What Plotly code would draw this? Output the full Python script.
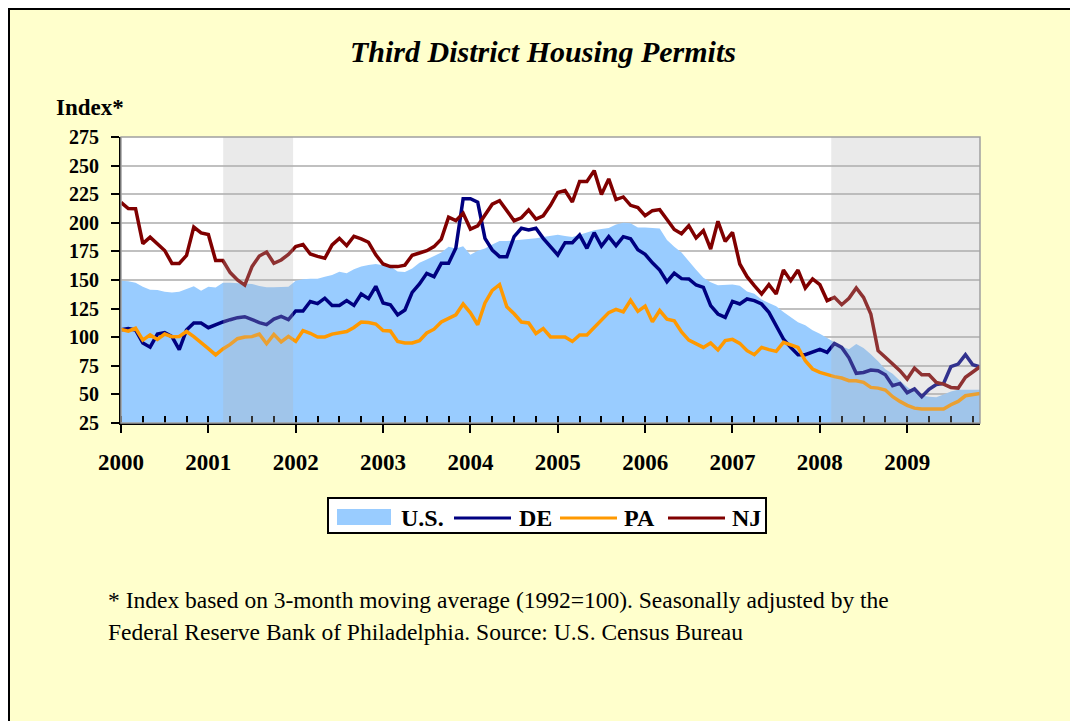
import plotly.graph_objects as go

# ---------------- data (monthly index, Jan 2000 .. Nov 2009) ----------------
start_year = 2000
us = [149.4, 149, 147.7, 144.2, 141.5, 141.3, 139.8, 139, 139.8, 142.5, 144.5, 140.5,
      144.2, 143.5, 147.5, 147.7, 147.1, 146.5, 146.5, 144.8, 143.6, 143.6, 143.6, 144.2,
      149.4, 150.6, 151, 151, 152.9, 154.4, 157.3, 155.8, 159.3, 161.7, 163.1, 164,
      163, 162, 157.5, 157, 160, 165, 168, 171, 174, 179, 177.5, 179.5,
      172, 175.5, 177.5, 181, 184, 184, 184.5, 185.5, 185.5, 186.5, 187.5, 188.5,
      189.5, 188.5, 187.5, 189.5, 191.5, 193.5, 194.5, 195.5, 198.5, 200, 199.5, 196,
      196, 195.5, 195, 185, 179, 174, 166, 159, 152, 148, 145.5, 146,
      146, 145, 140, 138, 133, 130, 127, 122, 117.5, 113, 110.5, 106,
      103, 99, 95.5, 92, 89.5, 94, 90.5, 85, 79, 72, 68, 62,
      56.5, 52, 49, 48, 47.5, 50, 52.5, 54, 54, 54, 54]
de = [106.6, 107.5, 106.3, 95, 91.3, 102.7, 104, 100.5, 89.2, 106.3, 112.4, 112.4,
      108.3, 111.2, 113.3, 115.3, 117.1, 117.9, 115, 112.8, 111, 115.8, 118.2, 115.3,
      122.9, 122.9, 131.2, 129.3, 134.1, 127.8, 127.8, 132, 127.8, 137.8, 133.7, 144.5,
      129.9, 128.3, 119.5, 123.8, 139.2, 146.5, 155.8, 152.9, 164.6, 164.6, 178, 221,
      221, 218, 186.4, 176.2, 170.4, 170.4, 187.9, 195.2, 193.7, 195.2, 186.4, 179.1,
      171.9, 182.6, 182.6, 189.3, 177.7, 191.4, 179.7, 187.9, 180, 187.9, 186, 176.5,
      172.5, 165, 158.7, 148.5, 156, 151.2, 150.9, 145.6, 143.6, 127.6, 120.3, 117.3,
      131.3, 129, 133.4, 132, 129, 121.7, 110, 98.4, 91.1, 84.7, 84.7, 86.7,
      89.4, 86.7, 94.6, 91.1, 82, 68.4, 69.2, 71.3, 70.7, 67.2, 57.6, 59.6,
      51.5, 54.7, 48, 54.4, 58.7, 59.6, 74.2, 76.5, 84.7, 75.9, 74.2]
pa = [106.7, 105.3, 107.8, 97.5, 102, 98.1, 102.8, 100.5, 100.7, 105, 100.5, 94.8,
      90, 84.5, 89.7, 93.7, 98.7, 100.2, 100.5, 102.8, 94.3, 102.5, 95.8, 100.7,
      96.3, 105.7, 103.4, 100.2, 100.2, 102.7, 104.1, 104.9, 108.5, 113.3, 112.9, 111.5,
      105.9, 105.4, 96.3, 94.9, 94.9, 97, 103.7, 107, 113.3, 116.2, 119.6, 129,
      121.3, 110.9, 130, 141, 146, 126.5, 120.5, 113.3, 112.5, 103.2, 107.5, 100.2,
      100.2, 100.2, 96.3, 102, 102, 108.6, 115.3, 121.5, 124.4, 122.2, 132.3, 122.6,
      127.2, 113.4, 123.3, 115.7, 114.4, 104.5, 97.5, 94.6, 91.1, 94.9, 88.8, 97,
      98.1, 94.6, 88.2, 84.7, 91.1, 89.1, 87.6, 95.5, 92.9, 91.1, 79.4, 72.2,
      69.2, 67.2, 65.5, 64.3, 62, 61.9, 60.5, 56.1, 55.5, 53.8, 48, 43.9,
      40.4, 38, 37.2, 37.2, 37.2, 37.2, 41, 43.9, 48.8, 49.7, 50.9]
nj = [217.8, 212.4, 212.3, 181.8, 187.5, 181.8, 175.8, 164.5, 164.5, 171.5, 196.3, 191.2,
      189.8, 167, 167, 156.5, 150, 145.5, 161.7, 171, 174.5, 164.6, 167.5, 172.4,
      179.3, 181, 172.7, 170.7, 169, 180.7, 186.4, 180, 188.2, 186, 183, 172,
      164, 161.7, 161.7, 163, 171.6, 173.6, 175.6, 179.2, 185.7, 205, 201.9, 208.3,
      194.5, 197.4, 207, 216.3, 219.4, 210.9, 201.8, 204.4, 211.2, 203.2, 206.1, 215.3,
      226.5, 228.2, 218.2, 236.2, 236.2, 245.6, 224.8, 238.4, 220.3, 222.6, 215.3, 213.3,
      206.2, 210.6, 211.5, 202.9, 194.2, 190.5, 197.5, 186.7, 193.1, 177.1, 201.3, 183.8,
      191.7, 164, 152.9, 145, 137.8, 145.9, 137.8, 158.7, 149.4, 158.7, 143, 150.9,
      145.9, 132, 134.8, 128.4, 134, 143, 134.8, 120.3, 88.2, 82.4, 76.5, 70.7,
      63.4, 73, 67.2, 67.2, 60.5, 59, 56.1, 55.5, 64.9, 69.2, 74.2]

years = list(range(2000, 2010))
year_labels = [str(y) for y in years]
y_ticks = [25, 50, 75, 100, 125, 150, 175, 200, 225, 250, 275]
recession_start = [2001.17, 2008.13]
recession_end = [2001.97, 2009.84]

series_names = ["U.S.", "DE", "PA", "NJ"]
series_colors = ["#99ccff", "#000080", "#ff9900", "#800000"]

title = "Third District Housing Permits"
y_title = "Index*"
note_lines = ["* Index based on 3-month moving average (1992=100). Seasonally adjusted by the",
              "Federal Reserve Bank of Philadelphia. Source: U.S. Census Bureau"]

months = [start_year + i / 12 for i in range(len(us))]

# ---------------- figure ----------------
SERIF = "Liberation Serif, Times New Roman, serif"
W, H = 1070, 721
L, T = 121, 137
PW, PH = 859, 286
R, B = W - L - PW, H - T - PH


# screen pixel -> paper coordinates
def px(x):
    return (x - L) / PW


def py(y):
    return (T + PH - y) / PH


fig = go.Figure()
fig.add_trace(go.Scatter(x=months, y=us, name=series_names[0], mode="lines", fill="tozeroy",
                         fillcolor=series_colors[0], line=dict(color=series_colors[0], width=0),
                         showlegend=False))
for name, color, vals in zip(series_names[1:], series_colors[1:], [de, pa, nj]):
    fig.add_trace(go.Scatter(x=months, y=vals, name=name, mode="lines",
                             line=dict(color=color, width=3.5), showlegend=False))

shapes = []
# white strips outside the outer frame
shapes.append(dict(type="rect", xref="paper", yref="paper", x0=px(-5), x1=px(W + 5),
                   y0=py(8), y1=py(-5), fillcolor="white", line=dict(width=0), layer="above"))
shapes.append(dict(type="rect", xref="paper", yref="paper", x0=px(-5), x1=px(8),
                   y0=py(H + 5), y1=py(-5), fillcolor="white", line=dict(width=0), layer="above"))
# outer frame
shapes.append(dict(type="rect", xref="paper", yref="paper", x0=px(9), x1=px(1100),
                   y0=py(760), y1=py(9), line=dict(color="black", width=2), layer="above"))
# recession shading
for s, e in zip(recession_start, recession_end):
    shapes.append(dict(type="rect", xref="x", yref="paper", x0=s, x1=e, y0=0, y1=1,
                       fillcolor="rgba(180,180,180,0.28)", line=dict(width=0), layer="above"))
# plot-area border (top/right grey)
shapes.append(dict(type="rect", xref="paper", yref="paper", x0=0, x1=1, y0=0, y1=1,
                   line=dict(color="#a0a0a0", width=1.5), layer="above"))

annotations = [
    dict(text="<b><i>" + title + "</i></b>", xref="paper", yref="paper", x=px(543), y=py(52),
         xanchor="center", yanchor="middle", showarrow=False,
         font=dict(family=SERIF, size=30, color="black")),
    dict(text="<b>" + y_title + "</b>", xref="paper", yref="paper", x=px(54), y=py(107),
         xanchor="left", yanchor="middle", showarrow=False,
         font=dict(family=SERIF, size=23, color="black")),
]
for k, line in enumerate(note_lines):
    annotations.append(dict(text=line, xref="paper", yref="paper", x=px(106), y=py(600 + 32 * k),
                            xanchor="left", yanchor="middle", showarrow=False,
                            font=dict(family=SERIF, size=23.5, color="black")))

# legend box (drawn)
shapes.append(dict(type="rect", xref="paper", yref="paper", x0=px(328), x1=px(766),
                   y0=py(533), y1=py(498), fillcolor="white",
                   line=dict(color="black", width=2), layer="above"))
swatch_x = [337, 454, 560, 668]
label_x = [399, 517, 622, 730]
leg_y = 518
for k, (name, color) in enumerate(zip(series_names, series_colors)):
    if k == 0:
        shapes.append(dict(type="rect", xref="paper", yref="paper", x0=px(swatch_x[k]),
                           x1=px(swatch_x[k] + 54), y0=py(525), y1=py(509),
                           fillcolor=color, line=dict(width=0), layer="above"))
    else:
        shapes.append(dict(type="line", xref="paper", yref="paper", x0=px(swatch_x[k]),
                           x1=px(swatch_x[k] + 57), y0=py(leg_y), y1=py(leg_y),
                           line=dict(color=color, width=3), layer="above"))
    annotations.append(dict(text="<b>" + name + "</b>", xref="paper", yref="paper",
                            x=px(label_x[k]), y=py(leg_y), xanchor="left", yanchor="middle",
                            showarrow=False, font=dict(family=SERIF, size=24, color="black")))

fig.update_layout(
    width=W, height=H, autosize=False,
    margin=dict(l=L, r=R, t=T, b=B, pad=0),
    paper_bgcolor="#ffffcc", plot_bgcolor="white",
    showlegend=False,
    shapes=shapes, annotations=annotations,
    xaxis=dict(range=[months[0], months[-1]], tickvals=years, ticktext=year_labels,
               showgrid=False, zeroline=False, showline=True, linecolor="black", linewidth=2,
               ticks="outside", ticklen=8, tickwidth=2, tickcolor="black",
               ticklabelstandoff=9,
               tickfont=dict(family=SERIF, size=23, color="black", weight="bold"),
               minor=dict(dtick=0.25, tick0=2000, ticks="inside", ticklen=7, tickwidth=1.5,
                          tickcolor="black", showgrid=False)),
    yaxis=dict(range=[25, 275], tickvals=y_ticks, showgrid=True, gridcolor="#c0c0c0",
               gridwidth=1.5, zeroline=False, showline=True, linecolor="black", linewidth=2,
               ticks="outside", ticklen=8, tickwidth=2, tickcolor="black",
               ticklabelstandoff=8,
               tickfont=dict(family=SERIF, size=20, color="black", weight="bold")),
)

# remove the default page margin so the figure fills the window exactly
fig.write_html("out.html", config={"displayModeBar": False},
               post_script="document.body.style.margin='0';")
